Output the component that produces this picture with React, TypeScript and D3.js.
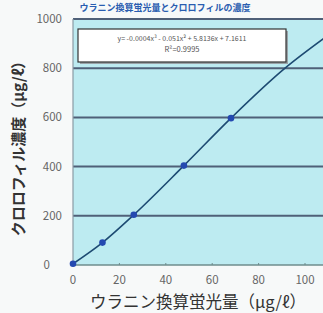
import React from "react";
import * as d3 from "d3";

const xTicks = [0, 20, 40, 60, 80, 100];
const yTicks = [0, 200, 400, 600, 800, 1000];
const pointsX = [0, 12.7, 26.2, 47.8, 68.1];
const pointsY = [5, 91, 204, 404, 597];
const trendX = [0, 12.7, 26.2, 47.8, 68.1, 91.4, 108];
const trendY = [5, 91, 204, 404, 597, 800, 920];
const equationText = "y= -0.0004x\u00B3 - 0.051x\u00B2 + 5.8136x + 7.1611";
const r2Text = "R\u00B2=0.9995";
const xTitle = "ウラニン換算蛍光量（μg/ℓ）";
const yTitle = "クロロフィル濃度（μg/ℓ）";
const topTitle = "ウラニン換算蛍光量とクロロフィルの濃度";

export default function App() {
  const W = 323, H = 313;
  const x = d3.scaleLinear().domain([0, 100]).range([73, 305]);
  const y = d3.scaleLinear().domain([0, 1000]).range([265, 19]);
  const line = d3
    .line<number>()
    .x((_, i) => x(trendX[i]))
    .y((d) => y(d))
    .curve(d3.curveMonotoneX);
  const font = "'Noto Sans CJK JP', 'Noto Sans', sans-serif";
  return (
    <svg
      width={W}
      height={H}
      style={{ position: "absolute", left: 0, top: 0, background: "#f7f9f9" }}
    >
      <defs>
        <clipPath id="plotClip">
          <rect x={x(0)} y={y(1000)} width={W - x(0)} height={y(0) - y(1000)} />
        </clipPath>
      </defs>
      <text
        x={165}
        y={11}
        textAnchor="middle"
        fontFamily={font}
        fontWeight={700}
        fontSize={9}
        fill="#2a5db0"
      >
        {topTitle}
      </text>
      <rect
        x={x(0)}
        y={y(1000)}
        width={W - x(0)}
        height={y(0) - y(1000)}
        fill="#bdebf1"
      />
      {yTicks.slice(1).map((t) => (
        <line
          key={t}
          x1={x(0)}
          x2={W}
          y1={y(t)}
          y2={y(t)}
          stroke="#4f6078"
          strokeWidth={2}
        />
      ))}
      <line x1={x(0)} x2={x(0)} y1={y(1000)} y2={y(0)} stroke="#8a9aa4" strokeWidth={1.2} />
      <line x1={x(0)} x2={W} y1={y(0)} y2={y(0)} stroke="#6f8c8c" strokeWidth={1.5} />
      {xTicks.slice(1).map((t) => (
        <line key={t} x1={x(t)} x2={x(t)} y1={y(0)} y2={y(0) - 2} stroke="#6f8c8c" strokeWidth={1} />
      ))}
      <g clipPath="url(#plotClip)">
        <path d={line(trendY) || ""} fill="none" stroke="#1d4a72" strokeWidth={1.6} />
      </g>
      {pointsX.map((px, i) => (
        <circle key={i} cx={x(px)} cy={y(pointsY[i])} r={3.3} fill="#2449b0" />
      ))}
      <rect x={80} y={31} width={208} height={33} fill="#9aa3a8" />
      <rect x={78} y={29} width={208} height={33} fill="#ffffff" stroke="#333" strokeWidth={1.2} />
      <text x={182} y={41} textAnchor="middle" fontFamily={font} fontSize={7} fill="#555">
        {equationText}
      </text>
      <text x={182} y={52} textAnchor="middle" fontFamily={font} fontSize={7.5} fill="#555">
        {r2Text}
      </text>
      {yTicks.map((t) => (
        <text
          key={t}
          x={t === 0 ? 50 : 62}
          y={y(t) + 4}
          textAnchor="end"
          fontFamily={font}
          fontSize={11.5}
          fill="#666"
        >
          {t}
        </text>
      ))}
      {xTicks.map((t) => (
        <text
          key={t}
          x={x(t)}
          y={284}
          textAnchor="middle"
          fontFamily={font}
          fontSize={11.5}
          fill="#666"
        >
          {t}
        </text>
      ))}
      <text
        x={198}
        y={308}
        textAnchor="middle"
        fontFamily={font}
        fontSize={16.5}
        fill="#333"
      >
        {xTitle}
      </text>
      <text
        transform={`translate(24, ${145}) rotate(-90)`}
        textAnchor="middle"
        fontFamily={font}
        fontSize={15}
        fontWeight={700}
        fill="#333"
      >
        {yTitle}
      </text>
    </svg>
  );
}
